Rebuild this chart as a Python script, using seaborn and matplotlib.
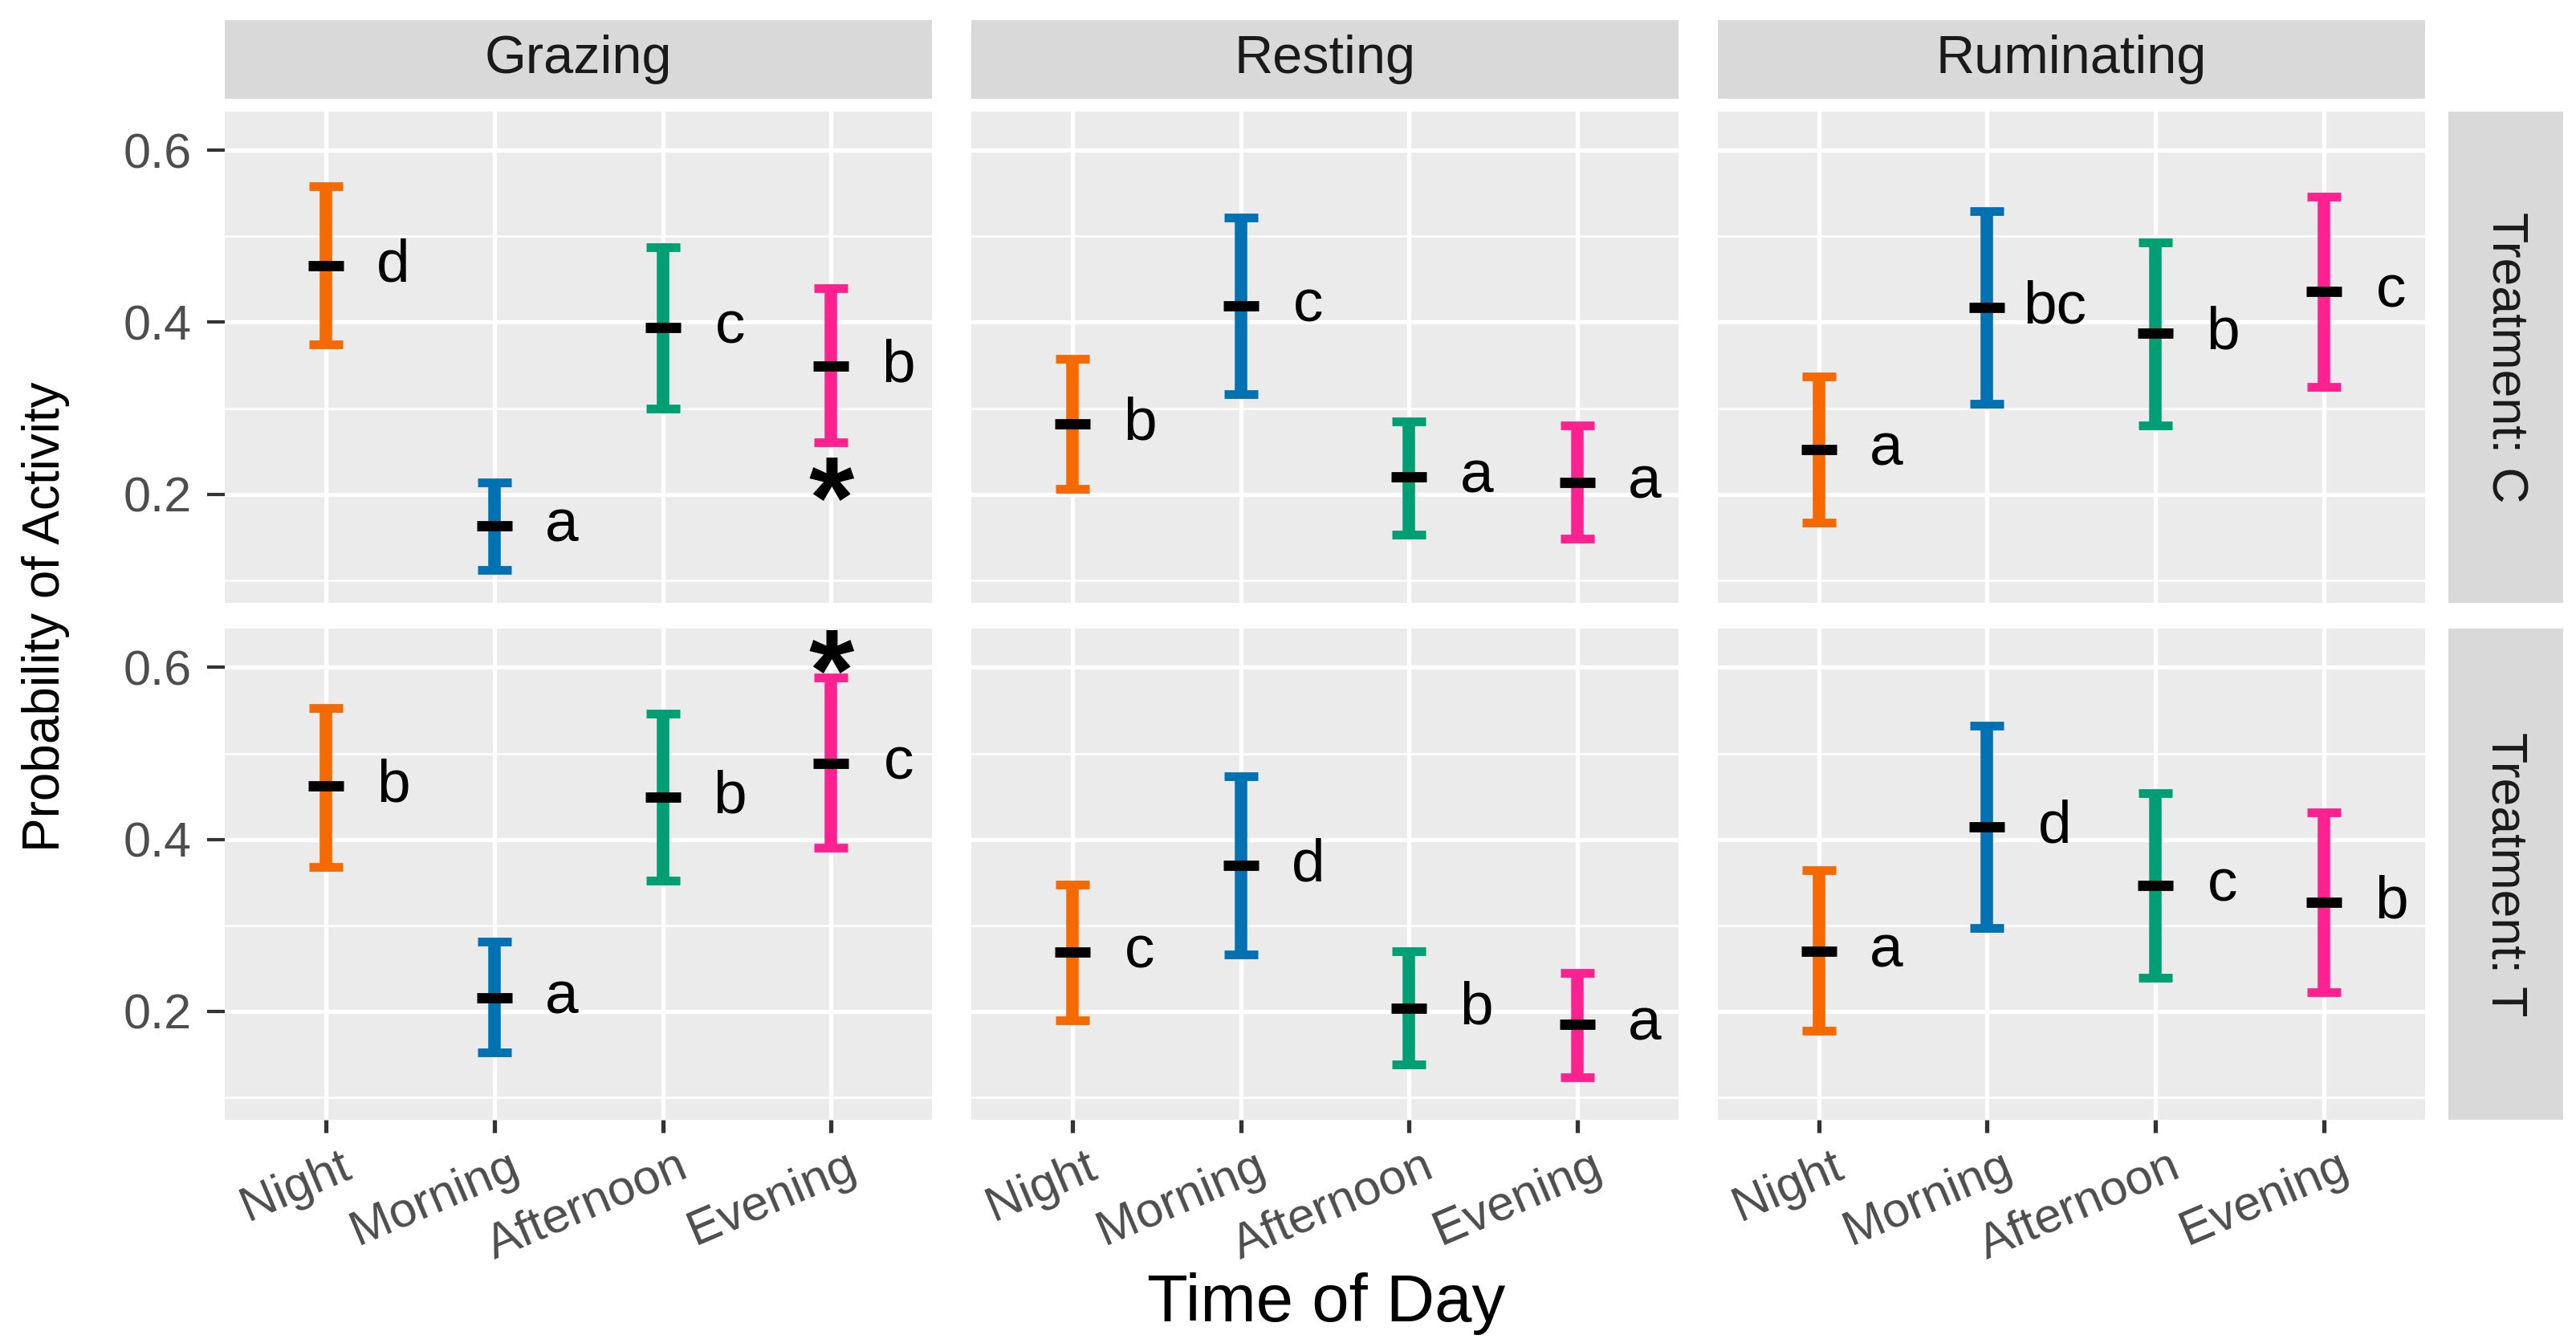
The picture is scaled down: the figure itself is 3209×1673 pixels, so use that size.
import numpy as np
import pandas as pd
import matplotlib
matplotlib.use("Agg")
import matplotlib.pyplot as plt
import matplotlib.transforms as mtransforms
import seaborn as sns
from matplotlib.patches import Rectangle

# ── data ─────────────────────────────────────────────────────────────────────
activities = ["Grazing", "Resting", "Ruminating"]
times      = ["Night", "Morning", "Afternoon", "Evening"]
treatments = ["C", "T"]
time_colors = ["#F56A00", "#0072B2", "#009E73", "#FF2190"]

# per treatment: 12 values = activity x time (Grazing, Resting, Ruminating)
mean_c = [0.466, 0.163, 0.394, 0.349,  0.282, 0.419, 0.220, 0.214,  0.252, 0.417, 0.387, 0.436]
low_c  = [0.374, 0.112, 0.300, 0.260,  0.206, 0.316, 0.153, 0.148,  0.167, 0.305, 0.280, 0.325]
high_c = [0.558, 0.214, 0.487, 0.440,  0.357, 0.522, 0.285, 0.280,  0.337, 0.529, 0.493, 0.546]
lett_c = ["d", "a", "c", "b",  "b", "c", "a", "a",  "a", "bc", "b", "c"]

mean_t = [0.462, 0.216, 0.449, 0.488,  0.269, 0.370, 0.204, 0.185,  0.270, 0.415, 0.346, 0.327]
low_t  = [0.368, 0.152, 0.352, 0.390,  0.190, 0.266, 0.138, 0.123,  0.177, 0.297, 0.239, 0.222]
high_t = [0.553, 0.281, 0.546, 0.588,  0.347, 0.473, 0.270, 0.245,  0.364, 0.532, 0.454, 0.431]
lett_t = ["b", "a", "b", "c",  "c", "d", "b", "a",  "a", "d", "c", "b"]

# significance stars between treatments (activity, time, treatment, y)
star_act   = ["Grazing", "Grazing"]
star_time  = ["Evening", "Evening"]
star_treat = ["C", "T"]
star_y     = [0.221, 0.622]

rows = []
for trt, m, lo, hi, lt in [("C", mean_c, low_c, high_c, lett_c),
                           ("T", mean_t, low_t, high_t, lett_t)]:
    for i in range(12):
        rows.append(dict(treatment=trt, activity=activities[i // 4],
                         time=times[i % 4], mean=m[i], low=lo[i],
                         high=hi[i], letter=lt[i]))
df = pd.DataFrame(rows)
df["time"] = pd.Categorical(df["time"], categories=times, ordered=True)

# ── style ────────────────────────────────────────────────────────────────────
sns.set_theme(style="darkgrid", rc={"axes.facecolor": "#EBEBEB",
                                    "grid.color": "white",
                                    "figure.facecolor": "white"})
plt.rcParams["font.family"] = ["Liberation Sans", "DejaVu Sans"]


def draw_panel(data, **kws):
    ax = plt.gca()
    for _, r in data.iterrows():
        x = times.index(r["time"])
        col = time_colors[x]
        ax.errorbar(x, r["mean"], yerr=[[r["mean"] - r["low"]], [r["high"] - r["mean"]]],
                    fmt="none", ecolor=col, elinewidth=5.6, capsize=7.4,
                    capthick=3.9, zorder=3)
        ax.plot(x, r["mean"], marker="_", ms=16, mew=4.6, color="black",
                ls="none", zorder=4)
        ax.text(x + 0.4, r["mean"], r["letter"], ha="center", va="center",
                fontsize=27, color="black", zorder=5)
    act = data["activity"].iloc[0]
    trt = data["treatment"].iloc[0]
    for a, t, tr, y in zip(star_act, star_time, star_treat, star_y):
        if a == act and tr == trt:
            # glyph sits high in its box, so drop the anchor a bit
            ax.text(times.index(t), y - 0.036, "*", ha="center", va="center",
                    fontsize=52, fontweight="bold", color="black", zorder=5)


g = sns.FacetGrid(df, row="treatment", col="activity", row_order=treatments,
                  col_order=activities, sharex=True, sharey=True,
                  height=4.18, aspect=1.28, despine=False)
g.map_dataframe(draw_panel)
g.set_titles("")
g.set_axis_labels("", "")
g.figure.set_size_inches(16.045, 8.365)

# small nudge so rotated labels end just right of their tick, like ggplot hjust=1
label_shift = mtransforms.ScaledTranslation(6 / 72, -2 / 72, g.figure.dpi_scale_trans)

for (ri, ci), ax in np.ndenumerate(g.axes):
    ax.set_xlim(-0.6, 3.6)
    ax.set_ylim(0.074, 0.645)
    ax.set_xticks(range(4))
    ax.set_yticks([0.2, 0.4, 0.6])
    ax.set_yticks([0.1, 0.3, 0.5], minor=True)
    ax.grid(which="major", color="white", lw=1.9)
    ax.grid(which="minor", axis="y", color="white", lw=0.9)
    ax.grid(which="minor", axis="x", visible=False)
    for s in ax.spines.values():
        s.set_visible(False)
    ax.tick_params(which="minor", length=0)
    ax.tick_params(axis="y", which="major", left=ci == 0, length=8, width=1.5,
                   color="#333333", pad=7, labelsize=22, labelcolor="#4D4D4D")
    ax.tick_params(axis="x", which="major", bottom=ri == 1, length=5.7, width=1.9,
                   color="#333333", pad=3, labelsize=22, labelcolor="#4D4D4D")
    if ci == 0:
        ax.set_yticklabels(["0.2", "0.4", "0.6"])
    if ri == 1:
        ax.set_xticklabels(times, rotation=23, ha="right", va="top",
                           rotation_mode="anchor")
        for lab in ax.get_xticklabels():
            lab.set_transform(lab.get_transform() + label_shift)
    # strips
    if ri == 0:
        ax.add_patch(Rectangle((0, 1.027), 1, 0.16, transform=ax.transAxes,
                               clip_on=False, fc="#D9D9D9", ec="none"))
        ax.text(0.5, 1.107, activities[ci], transform=ax.transAxes,
                ha="center", va="center", fontsize=24, color="#1A1A1A")
    if ci == 2:
        ax.add_patch(Rectangle((1.033, 0), 0.163, 1, transform=ax.transAxes,
                               clip_on=False, fc="#D9D9D9", ec="none"))
        ax.text(1.114, 0.5, "Treatment: " + treatments[ri], transform=ax.transAxes,
                ha="center", va="center", rotation=-90, fontsize=22.5,
                color="#1A1A1A")

g.figure.subplots_adjust(left=0.0874, right=0.9413, bottom=0.1663, top=0.9169,
                         wspace=0.0558, hspace=0.0535)
g.figure.text(0.0179, 0.541, "Probability of Activity", rotation=90,
              ha="center", va="center", fontsize=23, color="black")
g.figure.text(0.5147, 0.029, "Time of Day", ha="center", va="center",
              fontsize=30, color="black")

g.figure.savefig("out.png", dpi=200)
